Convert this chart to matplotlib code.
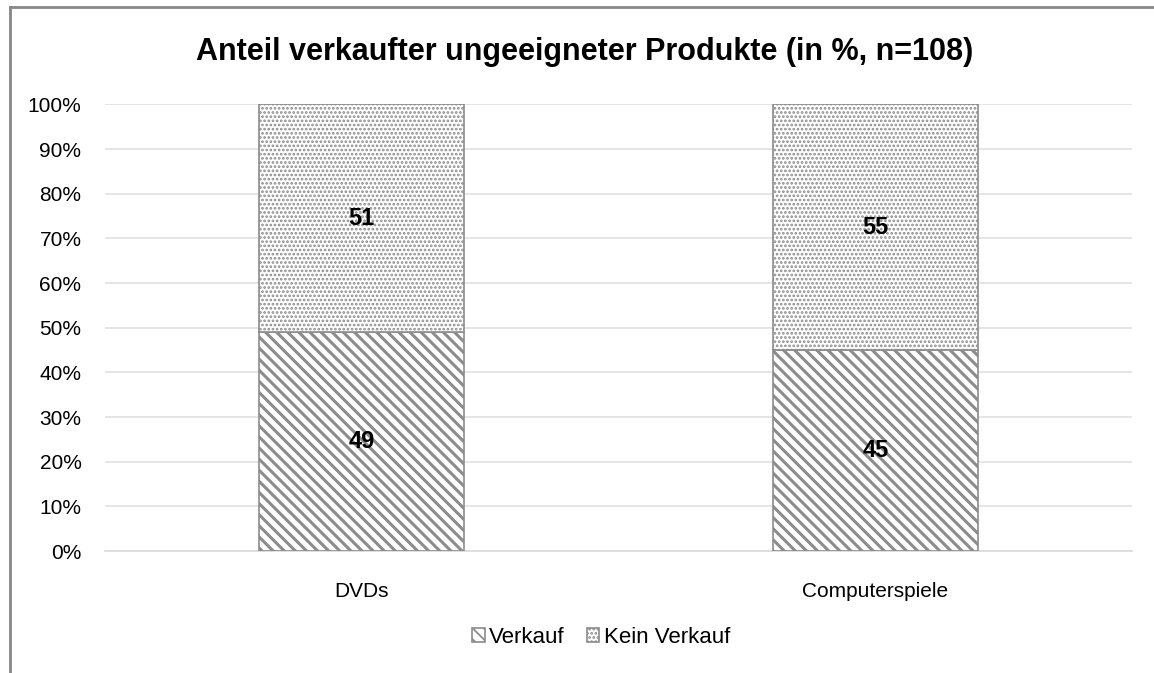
import matplotlib
matplotlib.use("Agg")
import matplotlib.pyplot as plt
import matplotlib as mpl

plt.rcParams['font.family'] = ['Liberation Sans', 'DejaVu Sans']

categories = ["DVDs", "Computerspiele"]
verkauf = [49, 45]
kein_verkauf = [51, 55]
series_names = ["Verkauf", "Kein Verkauf"]
yticks = [0, 10, 20, 30, 40, 50, 60, 70, 80, 90, 100]
ytick_labels = [f"{v}%" for v in yticks]
title = "Anteil verkaufter ungeeigneter Produkte (in %, n=108)"

fig = plt.figure(figsize=(11.54, 6.73), dpi=100)
ax = fig.add_axes([0.091, 0.181, 0.890, 0.664])

x = list(range(len(categories)))
edge = "#8c8c8c"
mpl.rcParams['hatch.color'] = "#9a9a9a"
mpl.rcParams['hatch.linewidth'] = 2.2
b1 = ax.bar(x, verkauf, width=0.4, color="white", edgecolor=edge, hatch="\\\\\\", linewidth=1.2, zorder=3)
mpl.rcParams['hatch.color'] = "#a8a8a8"
mpl.rcParams['hatch.linewidth'] = 1.3
b2 = ax.bar(x, kein_verkauf, bottom=verkauf, width=0.4, color="white", edgecolor=edge, hatch="....", linewidth=1.2, zorder=3)

for i in x:
    ax.text(i, verkauf[i] / 2, str(verkauf[i]), ha="center", va="center",
            fontsize=17, fontweight="bold", zorder=5)
    ax.text(i, verkauf[i] + kein_verkauf[i] / 2, str(kein_verkauf[i]), ha="center", va="center",
            fontsize=17, fontweight="bold", zorder=5)

ax.set_xlim(-0.5, 1.5)
ax.set_ylim(0, 100)
ax.set_yticks(yticks)
ax.set_yticklabels(ytick_labels, fontsize=15)
ax.set_xticks(x)
ax.set_xticklabels(categories, fontsize=15)
ax.tick_params(axis="y", length=0, pad=17)
ax.tick_params(axis="x", length=0, pad=22)
ax.yaxis.grid(True, color="#e0e0e0", linewidth=1.2, zorder=0)
ax.set_axisbelow(True)
for s in ["top", "right", "left"]:
    ax.spines[s].set_visible(False)
ax.spines["bottom"].set_color("#d9d9d9")
ax.spines["bottom"].set_linewidth(1.2)

fig.text(0.507, 0.922, title, ha="center", va="center", fontsize=22, fontweight="bold")

leg = fig.legend([b1, b2], series_names, loc="center", bbox_to_anchor=(0.521, 0.053),
                 ncol=2, frameon=False, fontsize=16, handlelength=0.55, handleheight=0.55,
                 handletextpad=0.2, columnspacing=1.0)

# chart border (left and top visible)
fig.add_artist(plt.Line2D([0.0085, 0.0085], [0, 0.99], transform=fig.transFigure, color="#888888", linewidth=2))
fig.add_artist(plt.Line2D([0.0085, 1.0], [0.99, 0.99], transform=fig.transFigure, color="#888888", linewidth=2))

fig.savefig("out.png", dpi=100, facecolor="white")
